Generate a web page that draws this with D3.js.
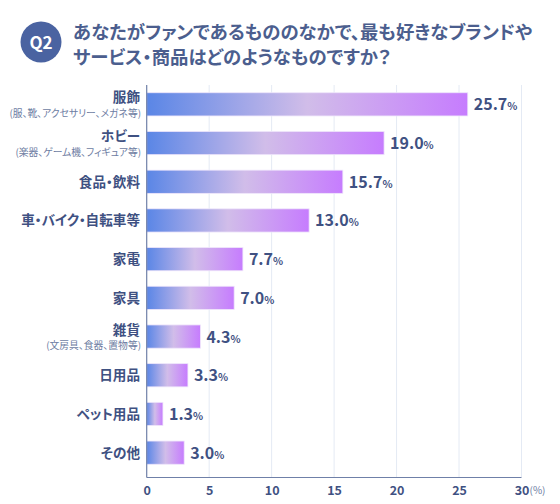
<!DOCTYPE html>
<html><head><meta charset="utf-8">
<script src="https://cdn.jsdelivr.net/npm/d3@7"></script>
<style>body{margin:0;background:#fff}svg{display:block}svg text{font-feature-settings:"palt" 1;}</style>
</head><body>
<script>
const categories = ["服飾","ホビー","食品・飲料","車・バイク・自転車等","家電","家具","雑貨","日用品","ペット用品","その他"];
const subLabels = ["(服、靴、アクセサリー、メガネ等)","(楽器、ゲーム機、フィギュア等)","","","","","(文房具、食器、置物等)","","",""];
const values = [25.7,19.0,15.7,13.0,7.7,7.0,4.3,3.3,1.3,3.0];
const xTicks = [0,5,10,15,20,25,30];
const titleLines = ["あなたがファンであるもののなかで、最も好きなブランドや","サービス・商品はどのようなものですか？"];

const W=560,H=504;
const font = "'Noto Sans CJK JP','Noto Sans',sans-serif";
const navy = "#3f5182";
const svg = d3.select("body").append("svg").attr("width",W).attr("height",H);
const defs = svg.append("defs");
const g = defs.append("linearGradient").attr("id","bg").attr("x1","0").attr("x2","1").attr("y1","0").attr("y2","0");
g.append("stop").attr("offset","0").attr("stop-color","#5a86e6");
g.append("stop").attr("offset","0.5").attr("stop-color","#d1bde9");
g.append("stop").attr("offset","1").attr("stop-color","#c67cfe");

// title
svg.append("circle").attr("cx",41).attr("cy",42).attr("r",20.5).attr("fill","#4a63a1");
svg.append("text").attr("x",41).attr("y",48.5).attr("text-anchor","middle").attr("fill","#fff")
  .attr("font-family",font).attr("font-weight",700).attr("font-size",17).text("Q2");
titleLines.forEach((t,i)=>svg.append("text").attr("x",73).attr("y",39+i*24.5).attr("fill","#4b5e8e")
  .attr("font-family",font).attr("font-weight",700).attr("font-size",18.4).text(t));

const x = d3.scaleLinear().domain([0,30]).range([146.7,521.5]);
const y = d3.scaleBand().domain(categories).range([85,472]).paddingInner(0.4).paddingOuter(0.2);

// grid
svg.append("g").selectAll("line").data(xTicks.slice(1)).join("line")
  .attr("x1",d=>x(d)).attr("x2",d=>x(d)).attr("y1",85).attr("y2",477)
  .attr("stroke","#e4eaf4").attr("stroke-width",1);

// bars
svg.append("g").selectAll("rect").data(values).join("rect")
  .attr("x",x(0)).attr("y",(d,i)=>y(categories[i]))
  .attr("width",d=>x(d)-x(0)).attr("height",y.bandwidth())
  .attr("fill","url(#bg)").attr("stroke","#efe6fb").attr("stroke-width",0.8);

// axes
svg.append("line").attr("x1",x(0)).attr("x2",x(0)).attr("y1",85).attr("y2",477.5).attr("stroke","#6f80a8").attr("stroke-width",1.2);
svg.append("line").attr("x1",x(0)).attr("x2",x(30)).attr("y1",477.5).attr("y2",477.5).attr("stroke","#6f80a8").attr("stroke-width",1.2);

const xa = svg.append("g").attr("transform","translate(0,477.5)")
  .call(d3.axisBottom(x).tickValues(xTicks).tickSize(0).tickPadding(9));
xa.select(".domain").remove();
xa.selectAll("text").attr("font-family",font).attr("font-weight",700).attr("font-size",12.5).attr("fill",navy);
svg.append("text").attr("x",x(30)+8).attr("y",494).attr("font-family",font).attr("font-size",10).attr("fill","#6d7ca2").text("(%)");

// category labels
categories.forEach((c,i)=>{
  const cy = y(c)+y.bandwidth()/2;
  const hasSub = subLabels[i] !== "";
  svg.append("text").attr("x",140).attr("y",hasSub?cy-2:cy+5).attr("text-anchor","end")
    .attr("font-family",font).attr("font-weight",700).attr("font-size",13.6).attr("fill",navy).text(c);
  if(hasSub) svg.append("text").attr("x",141).attr("y",cy+12.5).attr("text-anchor","end")
    .attr("font-family",font).attr("font-size",9.8).attr("fill","#6d7ca2").text(subLabels[i]);
});

// value labels
values.forEach((v,i)=>{
  const cy = y(categories[i])+y.bandwidth()/2;
  const t = svg.append("text").attr("x",x(v)+6).attr("y",cy+6).attr("font-family",font).attr("fill",navy);
  t.append("tspan").attr("font-weight",700).attr("font-size",16).text(v.toFixed(1));
  t.append("tspan").attr("font-size",10.5).attr("font-weight",700).text("%");
});
</script>
</body></html>
